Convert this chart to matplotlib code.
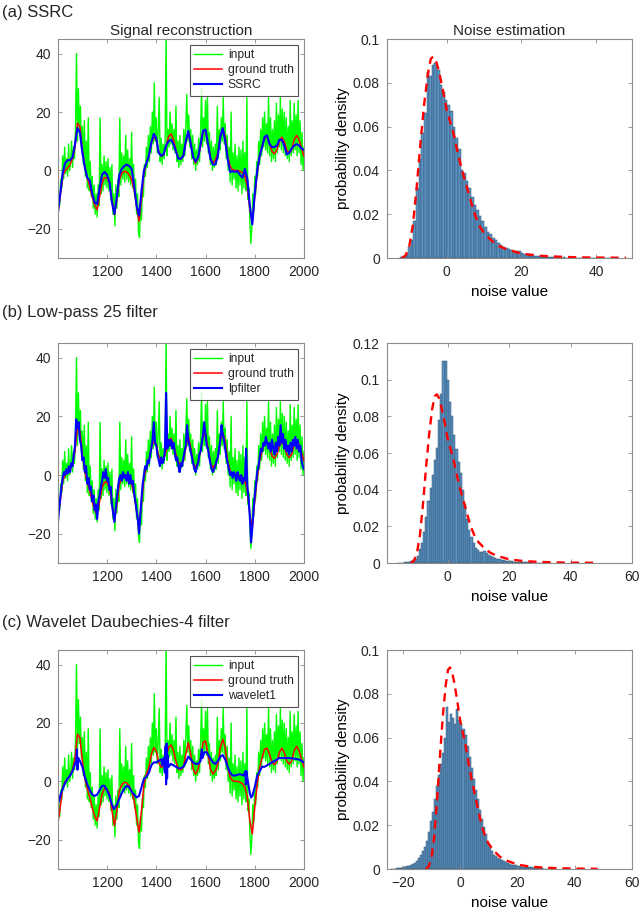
import numpy as np
import matplotlib
matplotlib.use("Agg")
import matplotlib.pyplot as plt
from matplotlib.ticker import FormatStrFormatter

plt.rcParams['font.family'] = ['Liberation Sans', 'DejaVu Sans']
plt.rcParams['text.color'] = '#262626'

# --- signal data (sample index 1000..2000) ---
input_step = 4
input_signal = [
    -20, -8, -12, -3, -6, 5, -3, 8, -1, 4,
    -2, 9, 0, 3, 10, 1, 8, 4, 14, 40,
    10, 28, 13, 22, 8, 15, 2, 17, -2, 10,
    -6, 18, -7, 3, -9, -2, -13, -5, -15, -8,
    -16, -5, -12, 18, -8, 2, -7, 5, -5, 3,
    -6, 4, -7, 1, -10, 2, -15, -8, -19, -5,
    -13, -3, -9, 18, -5, 6, -3, 5, -4, 12,
    -3, 7, -4, 4, -5, 13, -6, 2, -9, -3,
    -15, -8, -21, -23, -12, -17, -6, -9, 2, -2,
    8, 1, 12, 3, 15, 6, 20, 9, 30, 10,
    18, 6, 14, 25, 3, 11, 2, 9, 4, 10,
    46, 5, 14, 8, 20, 9, 16, 7, 14, 6,
    22, 3, 10, 1, 12, 2, 9, 3, 14, 5,
    15, 26, 10, 19, 8, 14, 4, 12, 2, 9,
    0, 7, 2, 11, 3, 13, 28, 8, 18, 10,
    24, 9, 25, 6, 13, 2, 10, 0, 8, 1,
    9, 2, 22, 4, 14, 7, 18, 10, 25, 9,
    16, 4, 12, 0, 8, -4, 20, -5, 6, -3,
    9, -6, 5, -7, 8, -5, 7, -8, 10, -6,
    6, -7, 25, -10, -6, -17, -25, -20, -8, -14,
    -2, -8, 3, -2, 10, 2, 14, 5, 18, 8,
    20, 7, 16, 6, 25, 5, 18, 3, 14, 4,
    17, 3, 23, 6, 19, 8, 25, 7, 21, 6,
    20, 5, 18, 4, 15, 3, 24, 5, 17, 6,
    23, 7, 19, 5, 24, 6, 17, 2, 13, 0,
    8,
]

truth_step = 10
ground_truth = [
    -14.5, -9, -2, 0, 0.8, 2, 4, 8, 16.2, 15,
    7, 1, -2.6, -5.5, -9, -12, -13.5, -9, -4.3, -2.4,
    -2.6, -4.3, -10, -15.2, -10, -3.2, -1.1, -0.3, -0.5, -1.5,
    -3.2, -6.6, -12.3, -17.4, -10, -1, 2.5, 4.8, 9.3, 11.6,
    10.5, 6.5, 4.8, 5.3, 8.2, 11.6, 12.5, 10.5, 7, 4.2,
    3.9, 4.8, 9.3, 13.3, 9.3, 4.2, 2.5, 4.2, 8.2, 13.3,
    13.9, 9.3, 4.2, 2.5, 3.6, 5.9, 11.6, 14.4, 11.6, 4.8,
    1.4, 0.2, 0, 0, -0.3, -0.7, -2, -5.5, -13.4, -18,
    -9, -1, 4.8, 8.2, 11, 11.4, 9.3, 6.5, 5.7, 7,
    9.9, 11.4, 9.9, 7, 5.9, 7, 10.5, 12, 10.5, 7.6,
    4.8,
]

ssrc_step = 10
ssrc = [
    -15, -8, -1, 2.5, 3.5, 3.5, 4.5, 9, 14.5, 13,
    6, 1, -2.5, -3.5, -8, -11, -11.5, -6, -1.5, -0.5,
    -1.5, -4, -11, -15, -9, -1.5, 0.5, 1.5, 2, 1.5,
    0.5, -5, -12, -15.5, -7, 0, 2.5, 5, 9.5, 12.5,
    11, 6, 5, 5.5, 8.5, 10, 10.5, 9, 6.5, 4,
    4, 5, 10, 13.5, 9, 4.5, 3, 4.5, 9, 13.5,
    14, 9, 4, 2, 2, 5, 11.5, 14.5, 10, 4,
    -0.5, -0.3, -0.5, -0.3, -1.5, -2.5, 0.5, -3, -12, -18.5,
    -8, 0, 5, 8, 11.5, 12, 9, 8, 8, 8.5,
    10.5, 10.5, 8.5, 5.5, 6, 7.5, 8.5, 9, 8.5, 7.5,
    7,
]

lp_step = 5
lpfilter = [
    -17, -12, -8, -4, -1, 1, 0, 2, 0.5, 3,
    1, 4, 3, 7, 10, 19, 16, 18, 12, 10,
    5, 6, 1, 3, -3, -1, -5, -4, -9, -7,
    -12, -10, -15, -9, -7, -4, -2, 1, -1, 2,
    -2, -1, -5, -4, -10, -13, -16, -12, -8, -4,
    -1, 0, -2, 1, -1, 0, -2, 1, -3, 0,
    -3, -2, -6, -9, -12, -15, -20, -14, -8, -3,
    0, 3, 2, 5, 4, 7, 9, 12, 18, 11,
    10, 7, 5, 3, 6, 4, 5, 8, 28, 9,
    12, 10, 12, 9, 11, 8, 5, 6, 3, 1,
    4, 3, 6, 8, 10, 17, 12, 10, 8, 6,
    4, 2, 1, 3, 4, 7, 8, 11, 14, 18,
    14, 10, 9, 6, 4, 2, 1, 2, 3, 5,
    6, 9, 12, 17, 14, 12, 9, 6, 4, 2,
    0, 1, -1, 1, 0, -2, 1, -1, -2, 0,
    -3, -1, -2, 9, -4, -8, -14, -23, -18, -12,
    -7, -3, 1, 3, 6, 9, 8, 11, 10, 13,
    11, 9, 11, 8, 12, 9, 7, 11, 8, 13,
    10, 17, 11, 14, 9, 12, 8, 10, 7, 11,
    8, 12, 10, 13, 9, 12, 8, 10, 5, 3,
    2,
]

wavelet_x = [1000, 1010, 1020, 1030, 1040, 1050, 1060, 1070, 1075, 1078, 1080, 1083,
             1090, 1100, 1110, 1120, 1130, 1140, 1150, 1160, 1170, 1180, 1190, 1200,
             1210, 1220, 1228, 1240, 1250, 1260, 1270, 1280, 1290, 1300, 1310, 1320,
             1330, 1340, 1350, 1360, 1370, 1380, 1390, 1400, 1410, 1420, 1425, 1430,
             1435, 1438, 1440, 1442, 1444, 1446, 1450, 1460, 1470, 1480, 1490, 1500,
             1510, 1520, 1530, 1540, 1550, 1560, 1570, 1580, 1585, 1588, 1595, 1605,
             1615, 1630, 1640, 1650, 1660, 1670, 1680, 1690, 1700, 1710, 1720, 1740,
             1755, 1762, 1764, 1766, 1770, 1780, 1785, 1790, 1800, 1810, 1820, 1830,
             1840, 1850, 1860, 1870, 1880, 1890, 1900, 1920, 1940, 1960, 1980, 2000]
wavelet1 = [-8, -5, -2.5, -0.5, 1, 2, 3.5, 6, 7, 11, 4, 8,
            7, 5, 1.5, -1, -3, -4.5, -5, -4.5, -3, -1.5, -1.5, -3,
            -5, -8, -9.5, -8, -6, -4, -2.5, -1.5, -2, -3.5, -4.5, -5.5,
            -5, -2, 1, 1.5, 3, 5.5, 6.5, 6.5, 7, 7.5, 5.5, 8,
            3, 12, -1, 13, 1, 9, 5, 6, 5.5, 5, 4.5, 4.5,
            5, 6.5, 8.5, 7.5, 6.5, 6, 6, 7, 11, 8, 10, 10,
            8.5, 6.5, 6, 7, 8.5, 9, 7.5, 5, 3, 2, 2, 2.5,
            2, 3.5, -1, 3.5, 1, -4, -5.5, -5, -2, 2, 3.5, 5,
            5, 5.5, 6, 6.5, 7, 7.5, 8, 8, 8, 7.8, 7.5, 6.5]

# --- noise histograms (bin width 0.7) ---
bin_w = 0.7
hist_a_start = -12.0
hist_a = [0.0005, 0.001, 0.002, 0.005, 0.008, 0.017, 0.032, 0.045, 0.057, 0.066,
          0.085, 0.083, 0.088, 0.089, 0.086, 0.079, 0.076, 0.072, 0.070, 0.067,
          0.060, 0.055, 0.050, 0.040, 0.039, 0.035, 0.032, 0.028, 0.024, 0.022,
          0.019, 0.017, 0.014, 0.012, 0.011, 0.009, 0.008, 0.007, 0.006, 0.005,
          0.0045, 0.004, 0.0035, 0.003, 0.0032, 0.003, 0.0025, 0.002, 0.0018, 0.0012,
          0.001, 0.0009, 0.0008, 0.0007, 0.0005, 0.0006, 0.0004, 0.0003, 0.0003, 0.0002,
          0.0003, 0.0002, 0.0004, 0.0002, 0.0001, 0.0001, 0.0001, 0.0002, 0.0001, 0.0001,
          0.0001, 0, 0.0001, 0.0001, 0, 0.0001, 0.0001, 0, 0.0001, 0, 0.0001]
hist_b_start = -16.0
hist_b = [0.0001, 0.0001, 0.0002, 0.0003, 0.0004, 0.0008, 0.001, 0.0014, 0.002, 0.004,
          0.0076, 0.011, 0.017, 0.025, 0.034, 0.041, 0.048, 0.056, 0.063, 0.078,
          0.092, 0.110, 0.110, 0.100, 0.088, 0.080, 0.070, 0.062, 0.055, 0.049,
          0.040, 0.032, 0.024, 0.018, 0.014, 0.011, 0.008, 0.007, 0.006, 0.006,
          0.0068, 0.0055, 0.0045, 0.004, 0.0032, 0.0028, 0.0024, 0.002, 0.0018, 0.0016,
          0.0013, 0.0012, 0.001, 0.0009, 0.0008, 0.0007, 0.0006, 0.0005, 0.0005, 0.0004,
          0.0004, 0.0003, 0.0003, 0.0002, 0.0002, 0.0002, 0.0001, 0.0001, 0.0001, 0.0001]
hist_c_start = -24.0
hist_c = [0.0001, 0.0002, 0.0002, 0.0003, 0.0005, 0.0006, 0.0008, 0.001, 0.0012, 0.0014,
          0.0017, 0.0022, 0.0028, 0.0038, 0.0052, 0.0065, 0.0082, 0.010, 0.013, 0.017,
          0.022, 0.026, 0.032, 0.038, 0.043, 0.048, 0.053, 0.060, 0.074, 0.067,
          0.071, 0.069, 0.066, 0.073, 0.068, 0.066, 0.064, 0.061, 0.056, 0.051,
          0.046, 0.041, 0.036, 0.032, 0.027, 0.023, 0.019, 0.016, 0.012, 0.010,
          0.008, 0.0065, 0.0058, 0.005, 0.0045, 0.004, 0.0035, 0.003, 0.0028, 0.0022,
          0.002, 0.0018, 0.0016, 0.0015, 0.0013, 0.0011, 0.001, 0.0009, 0.0008, 0.0008,
          0.0007, 0.0006, 0.0005, 0.0004, 0.0003, 0.0003, 0.0002, 0.0002, 0.0001, 0.0001]

# fitted noise pdf (red dashed, same in all panels)
fit_x = [-12, -11, -10, -9, -8, -7, -6, -5, -4.2, -3.5, -2.8, -2, -1, 0, 1, 2, 3, 4,
         5, 6, 7, 8, 9, 10, 12, 14, 16, 18, 20, 25, 30, 35, 40, 48]
fit_y = [0, 0.001, 0.005, 0.015, 0.032, 0.052, 0.070, 0.084, 0.091, 0.092, 0.090,
         0.085, 0.077, 0.068, 0.062, 0.056, 0.048, 0.041, 0.035, 0.029, 0.023, 0.018,
         0.014, 0.0115, 0.008, 0.0055, 0.004, 0.003, 0.002, 0.001, 0.0006, 0.0003,
         0.0002, 0.0001]

panels = [
    ('(a) SSRC', 'SSRC', ssrc_step, ssrc, None, hist_a_start, hist_a, (-16, 49.6), 0.1),
    ('(b) Low-pass 25 filter', 'lpfilter', lp_step, lpfilter, None, hist_b_start, hist_b, (-19.8, 60), 0.12),
    ('(c) Wavelet Daubechies-4 filter', 'wavelet1', None, wavelet1, wavelet_x, hist_c_start, hist_c, (-25.6, 60), 0.1),
]

fig = plt.figure(figsize=(6.4, 9.13), dpi=100)
W, H = 640.0, 913.0
rows = [(39, 258), (343, 563), (650, 869)]
label_y = [13, 313, 623]
axis_col = '#8c8c8c'


def style(ax):
    for s in ax.spines.values():
        s.set_color(axis_col)
        s.set_linewidth(0.8)
    ax.tick_params(direction='in', length=3, width=0.6, color=axis_col,
                   top=True, right=True, labelsize=10, labelcolor='#262626', pad=5)


x_in = np.arange(1000, 2001, input_step)
x_truth = np.arange(1000, 2001, truth_step)

for i, (plabel, name, step, est, est_x, hstart, hvals, hxlim, hymax) in enumerate(panels):
    top, bot = rows[i]
    axl = fig.add_axes([58 / W, 1 - bot / H, 246 / W, (bot - top) / H])
    axr = fig.add_axes([386.7 / W, 1 - bot / H, 245.3 / W, (bot - top) / H])

    # signal reconstruction
    axl.plot(x_in, input_signal, color='#00ff00', lw=1.0, label='input')
    axl.plot(x_truth, ground_truth, color='#ff0000', lw=1.1, label='ground truth')
    if est_x is None:
        ex = np.arange(1000, 2001, step)
    else:
        ex = est_x
    axl.plot(ex, est, color='#0000ff', lw=1.5, label=name)
    axl.set_xlim(1001, 2000)
    axl.set_ylim(-30, 45)
    axl.set_xticks([1200, 1400, 1600, 1800, 2000])
    axl.set_yticks([-20, 0, 20, 40])
    style(axl)
    leg = axl.legend(loc='upper right', fontsize=8.7, frameon=True, fancybox=False,
                     handlelength=2.3, handletextpad=0.5, borderpad=0.35,
                     labelspacing=0.25, borderaxespad=0.5)
    leg.get_frame().set_edgecolor('#262626')
    leg.get_frame().set_linewidth(0.8)

    # noise estimation
    centers = hstart + bin_w * np.arange(len(hvals))
    axr.bar(centers, hvals, width=bin_w, color='#5a93c2', edgecolor='#2f4f6c',
            linewidth=0.35)
    axr.plot(fit_x, fit_y, color='#ff0000', lw=1.7, dashes=(3.5, 2.5))
    axr.set_xlim(*hxlim)
    axr.set_ylim(0, hymax)
    if hymax > 0.1:
        axr.set_yticks([0, 0.02, 0.04, 0.06, 0.08, 0.1, 0.12])
    else:
        axr.set_yticks([0, 0.02, 0.04, 0.06, 0.08, 0.1])
    axr.yaxis.set_major_formatter(FormatStrFormatter('%g'))
    axr.set_xticks([t for t in [-20, 0, 20, 40, 60] if hxlim[0] <= t <= hxlim[1]])
    style(axr)
    axr.set_xlabel('noise value', fontsize=11, labelpad=4)
    axr.set_ylabel('probability density', fontsize=11, labelpad=2)

    fig.text(2 / W, 1 - label_y[i] / H, plabel, fontsize=12, va='center', ha='left')

    if i == 0:
        axl.set_title('Signal reconstruction', fontsize=11, pad=3)
        axr.set_title('Noise estimation', fontsize=11, pad=3)

fig.savefig('out.png', dpi=100)
